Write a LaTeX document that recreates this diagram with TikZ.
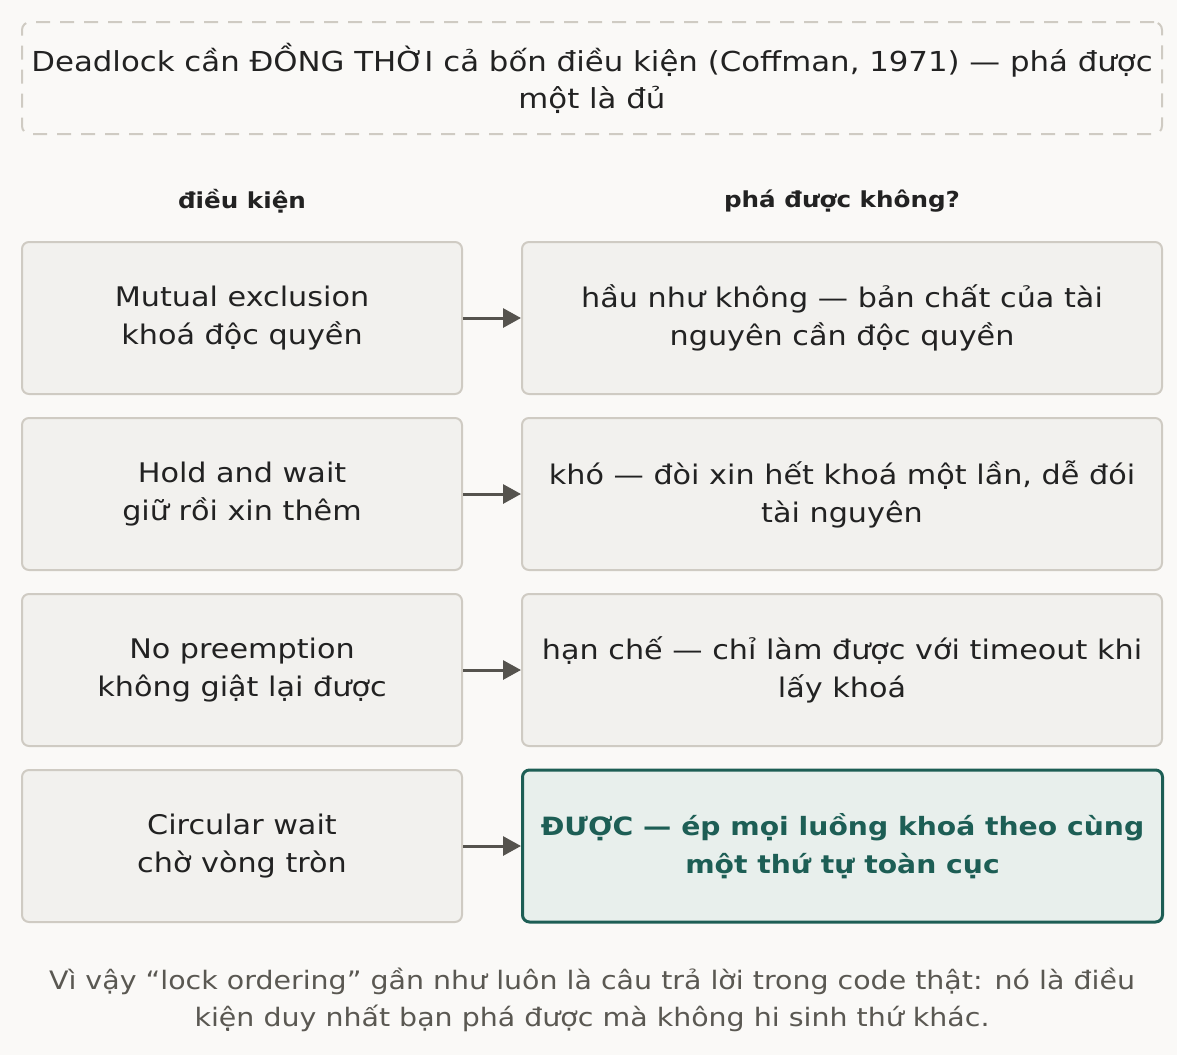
\documentclass[tikz,border=0pt]{standalone}
\usepackage{fontspec}
\setmainfont{DejaVu Sans}[FakeStretch=1.12]
\usetikzlibrary{positioning,arrows.meta}
\definecolor{paper}{HTML}{FAF9F7}
\definecolor{boxfill}{HTML}{F2F1EE}
\definecolor{boxline}{HTML}{CFCBC3}
\definecolor{ink}{HTML}{222222}
\definecolor{arrowgray}{HTML}{55534E}
\definecolor{okfill}{HTML}{E8EFEC}
\definecolor{okline}{HTML}{1D5E55}
\definecolor{notegray}{HTML}{5A5852}
\tikzset{
  condbox/.style={draw=boxline,fill=boxfill,line width=2pt,rounded corners=7pt,
    minimum width=440pt,minimum height=152pt,align=center,text=ink,
    font=\fontsize{27}{38}\selectfont},
  fixbox/.style={condbox,minimum width=640pt},
  okbox/.style={fixbox,draw=okline,fill=okfill,line width=3pt,text=okline,
    font=\fontsize{25.2}{38}\selectfont\bfseries},
  head/.style={text=ink,font=\fontsize{22}{28}\selectfont\bfseries},
  link/.style={-{Triangle[length=18pt,width=19pt]},draw=arrowgray,line width=3pt}
}
\begin{document}
\begin{tikzpicture}[x=1pt,y=-1pt]
\useasboundingbox[fill=paper] (0,0) rectangle (1177,1055);
%\draw[step=100,gray,very thin] (0,0) grid (1177,1055);

% title
\node[draw=boxline,dashed,dash pattern=on 14pt off 10pt,line width=2pt,rounded corners=8pt,
  minimum width=1140pt,minimum height=112pt,align=center,text=ink,
  font=\fontsize{27.5}{37}\selectfont] (title) at (592,78)
  {Deadlock cần ĐỒNG THỜI cả bốn điều kiện (Coffman, 1971) — phá được\\một là đủ};

\node[head] (hcond) at (242,201) {điều kiện};
\node[head] (hfix)  at (842,201) {phá được không?};

% conditions
\node[condbox] (c1) at (242,318) {Mutual exclusion\\khoá độc quyền};
\node[condbox] (c2) at (242,494) {Hold and wait\\giữ rồi xin thêm};
\node[condbox] (c3) at (242,670) {No preemption\\không giật lại được};
\node[condbox] (c4) at (242,846) {Circular wait\\chờ vòng tròn};

% can it be broken
\node[fixbox,right=58pt of c1] (b1) {hầu như không — bản chất của tài\\nguyên cần độc quyền};
\node[fixbox,right=58pt of c2] (b2) {khó — đòi xin hết khoá một lần, dễ đói\\tài nguyên};
\node[fixbox,right=58pt of c3] (b3) {hạn chế — chỉ làm được với timeout khi\\lấy khoá};
\node[okbox,right=58pt of c4]  (b4) {ĐƯỢC — ép mọi luồng khoá theo cùng\\một thứ tự toàn cục};

\draw[link] (c1) -- (b1);
\draw[link] (c2) -- (b2);
\draw[link] (c3) -- (b3);
\draw[link] (c4) -- (b4);

% footnote
\node[align=center,text=notegray,font=\fontsize{25.4}{37}\selectfont] (note) at (592,1000)
  {Vì vậy “lock ordering” gần như luôn là câu trả lời trong code thật: nó là điều\\kiện duy nhất bạn phá được mà không hi sinh thứ khác.};
\end{tikzpicture}
\end{document}
